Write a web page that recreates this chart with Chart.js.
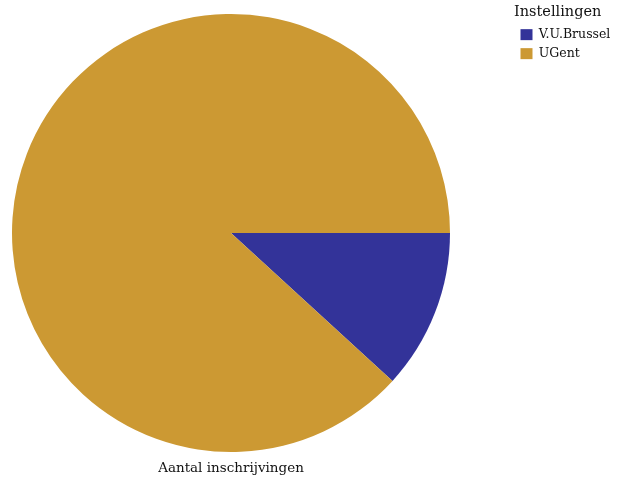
<!DOCTYPE html>
<html>
<head>
<meta charset="utf-8">
<script src="https://cdn.jsdelivr.net/npm/chart.js@4"></script>
<style>
  html, body { margin: 0; padding: 0; background: #fff; }
  #wrap { width: 629px; height: 479px; }
</style>
</head>
<body>
<div id="wrap"><canvas id="myChart" width="629" height="479"></canvas></div>
<script>
let institutions = ["V.U.Brussel", "UGent"];
let enrolments = [1180, 8820];
let sliceColors = ["#333399", "#CC9933"];
let legendTitle = "Instellingen";
let measureLabel = "Aantal inschrijvingen";

const FONT = "'DejaVu Serif', serif";

// put the legend where the original has it and write the measure name under the pie
const placeLegend = {
  id: 'placeLegend',
  beforeInit(chart) {
    const lg = chart.legend;
    const fit = lg.fit.bind(lg);
    lg.fit = function () { fit(); this.width = 167; };
  },
  afterLayout(chart) {
    chart.legend.left = 514;
    chart.legend.top = 0;
  },
  afterDraw(chart) {
    const ctx = chart.ctx;
    const a = chart.chartArea;
    ctx.save();
    ctx.font = "13.5px " + FONT;
    ctx.fillStyle = '#111';
    ctx.textAlign = 'center';
    ctx.textBaseline = 'alphabetic';
    ctx.fillText(measureLabel, (a.left + a.right) / 2, 472);
    ctx.restore();
  }
};

function createChart() {
  Chart.defaults.color = '#111';
  Chart.defaults.font.family = FONT;
  const ctx = document.getElementById('myChart').getContext('2d');
  new Chart(ctx, {
    type: 'pie',
    data: {
      labels: institutions,
      datasets: [{
        data: enrolments,
        backgroundColor: sliceColors,
        borderWidth: 0
      }]
    },
    options: {
      responsive: false,
      animation: false,
      rotation: 90,
      events: [],
      layout: { padding: { top: 14, bottom: 27, left: 0, right: 0 } },
      plugins: {
        legend: {
          position: 'right',
          align: 'start',
          title: {
            display: true,
            text: legendTitle,
            position: 'start',
            padding: { top: 5, bottom: -0.5 },
            font: { size: 14.5 }
          },
          labels: {
            boxWidth: 12,
            boxHeight: 11,
            padding: 6.5,
            font: { size: 12.5 }
          }
        },
        tooltip: { enabled: false }
      }
    },
    plugins: [placeLegend]
  });
}

window.onload = createChart;
</script>
</body>
</html>
